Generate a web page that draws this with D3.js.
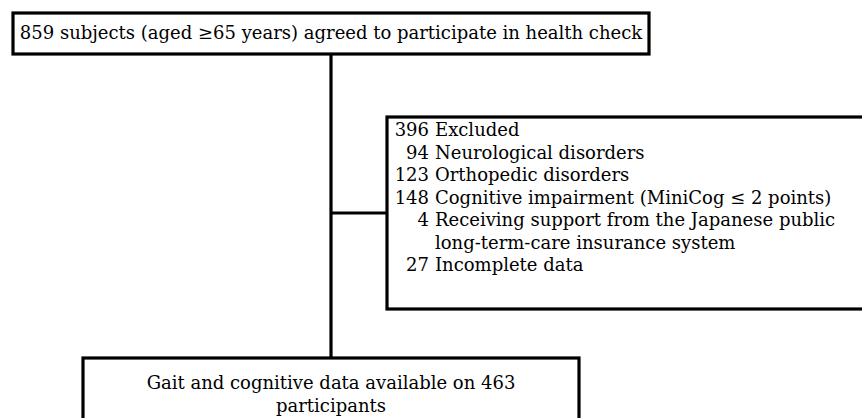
<!DOCTYPE html>
<html>
<head>
<meta charset="utf-8">
<script src="https://cdn.jsdelivr.net/npm/d3@7"></script>
<style>
  body { margin: 0; background: #fff; }
  svg text { font-family: "DejaVu Serif", "Liberation Serif", serif; fill: #000; }
</style>
</head>
<body>
<div id="chart"></div>
<script>
// Flow chart content
const enrolledLabel = "859 subjects (aged \u226565 years) agreed to participate in health check";
const excludedTotal = 396;
const excludedLabel = "Excluded";
const exclusionCounts = [94, 123, 148, 4, 27];
const exclusionReasons = [
    ["Neurological disorders"],
    ["Orthopedic disorders"],
    ["Cognitive impairment (MiniCog \u2264 2 points)"],
    ["Receiving support from the Japanese public", "long-term-care insurance system"],
    ["Incomplete data"]
];
const finalLines = ["Gait and cognitive data available on 463", "participants"];

const width = 862, height = 418;
const fontSize = 18;
const lineGap = 22.5;
const stroke = 3.2;

const svg = d3.select("#chart")
    .append("svg")
    .attr("width", width)
    .attr("height", height);

// box geometry
const topBox = { x: 13, y: 13, w: 636, h: 41 };
const exBox = { x: 387, y: 117, w: 490, h: 192 };
const endBox = { x: 83, y: 358, w: 496, h: 80 };
const trunkX = 331;
const branchY = 213;

// connectors
svg.append("line")
    .attr("x1", trunkX).attr("x2", trunkX)
    .attr("y1", topBox.y + topBox.h).attr("y2", endBox.y)
    .attr("stroke", "#000").attr("stroke-width", stroke);
svg.append("line")
    .attr("x1", trunkX).attr("x2", exBox.x)
    .attr("y1", branchY).attr("y2", branchY)
    .attr("stroke", "#000").attr("stroke-width", stroke);

// boxes
[topBox, exBox, endBox].forEach(b => {
    svg.append("rect")
        .attr("x", b.x).attr("y", b.y)
        .attr("width", b.w).attr("height", b.h)
        .attr("fill", "#fff")
        .attr("stroke", "#000")
        .attr("stroke-width", stroke);
});

// top box text
svg.append("text")
    .attr("x", topBox.x + topBox.w / 2)
    .attr("y", topBox.y + 26)
    .attr("text-anchor", "middle")
    .style("font-size", fontSize + "px")
    .text(enrolledLabel);

// exclusion rows
const rows = [{ count: excludedTotal, lines: [excludedLabel] }]
    .concat(exclusionCounts.map((c, i) => ({ count: c, lines: exclusionReasons[i] })));

const numX = 429, labelX = 435;
let rowY = exBox.y + 19;
const rowG = svg.append("g");
rows.forEach(r => {
    rowG.append("text")
        .attr("x", numX)
        .attr("y", rowY)
        .attr("text-anchor", "end")
        .style("font-size", fontSize + "px")
        .text(r.count);
    r.lines.forEach(line => {
        rowG.append("text")
            .attr("x", labelX)
            .attr("y", rowY)
            .style("font-size", fontSize + "px")
            .text(line);
        rowY += lineGap;
    });
});

// final box text
finalLines.forEach((line, i) => {
    svg.append("text")
        .attr("x", endBox.x + endBox.w / 2)
        .attr("y", endBox.y + 31 + i * lineGap)
        .attr("text-anchor", "middle")
        .style("font-size", fontSize + "px")
        .text(line);
});
</script>
</body>
</html>
